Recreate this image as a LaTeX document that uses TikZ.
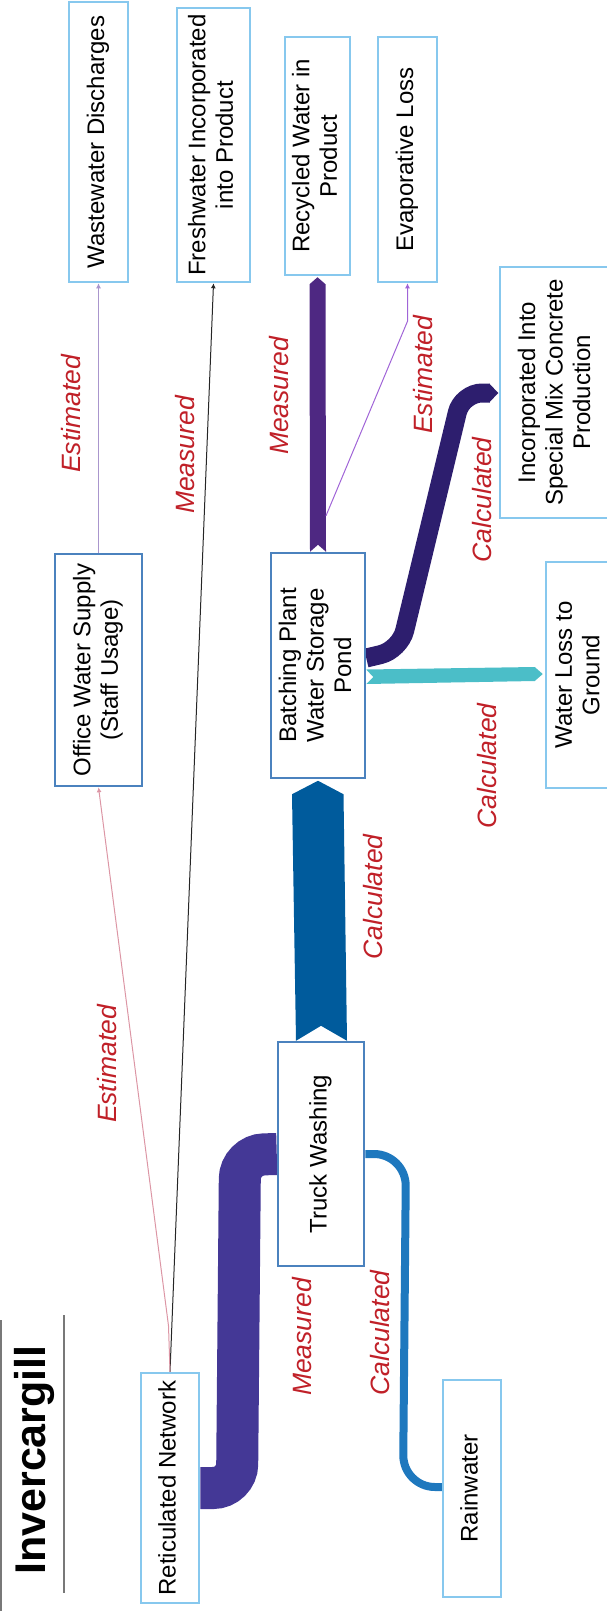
\documentclass[tikz,border=0pt]{standalone}
\usepackage{fontspec}
\usepackage{graphicx}
\setmainfont{Liberation Sans}
\usetikzlibrary{arrows.meta,backgrounds,calc}
\definecolor{lblue}{RGB}{135,200,238}
\definecolor{sblue}{RGB}{75,130,190}
\definecolor{lblred}{RGB}{192,32,40}
\definecolor{pipepurple}{RGB}{68,56,150}
\definecolor{rainblue}{RGB}{30,120,190}
\definecolor{flowblue}{RGB}{0,91,156}
\definecolor{recpurple}{RGB}{78,40,130}
\definecolor{mixnavy}{RGB}{45,30,110}
\definecolor{tealflow}{RGB}{75,190,200}
\definecolor{thinpink}{RGB}{220,150,165}
\definecolor{thinlav}{RGB}{170,150,205}
\definecolor{thinviolet}{RGB}{160,100,215}
\definecolor{titlegray}{RGB}{120,120,120}
\newcommand{\vtext}[1]{\rotatebox{90}{\fontsize{24}{27.5}\selectfont\begin{tabular}{@{}c@{}}#1\end{tabular}}}
\tikzset{
  lbox/.style={draw=lblue, line width=2.5pt, fill=white, inner sep=0pt},
  sbox/.style={draw=sblue, line width=2.5pt, fill=white, inner sep=0pt},
  flowlabel/.style={rotate=90, text=lblred, font=\fontsize{26.5}{30}\selectfont\itshape, inner sep=0pt},
  thinflow/.style={line width=1pt, -{Latex[length=5pt,width=5pt]}},
}
\begin{document}
\begin{tikzpicture}[x=1pt,y=-1pt]
\useasboundingbox (0,0) rectangle (607,1611);
% title
\node[rotate=90, anchor=base, inner sep=0pt, font=\fontsize{43}{50}\selectfont\bfseries] (title) at (45,1460) {Invercargill};
\draw[titlegray, line width=1.5pt] (64,1315) -- (64,1593);
\draw[titlegray, line width=1.5pt] (0.75,1320) -- (0.75,1611);
% nodes
\node[lbox, minimum width=59pt, minimum height=280pt] (ww) at (98.5,142) {\vtext{Wastewater Discharges}};
\node[lbox, minimum width=73pt, minimum height=274pt] (fw) at (213.5,145) {\vtext{Freshwater Incorporated\\into Product}};
\node[lbox, minimum width=65pt, minimum height=238pt] (rw) at (317.5,156) {\vtext{Recycled Water in\\Product}};
\node[lbox, minimum width=59pt, minimum height=245pt] (ev) at (407.5,159.5) {\vtext{Evaporative Loss}};
\node[lbox, minimum width=114pt, minimum height=251pt] (sm) at (557,392.5) {\vtext{Incorporated Into\\Special Mix Concrete\\Production}};
\node[sbox, minimum width=87pt, minimum height=232pt] (of) at (98.5,670) {\vtext{Office Water Supply\\(Staff Usage)}};
\node[sbox, minimum width=94pt, minimum height=225pt] (bp) at (318,665.5) {\vtext{Batching Plant\\Water Storage\\Pond}};
\node[lbox, minimum width=68pt, minimum height=226pt] (wl) at (580,675) {\vtext{Water Loss to\\Ground}};
\node[sbox, minimum width=86pt, minimum height=224pt] (tw) at (321,1154) {\vtext{Truck Washing}};
\node[lbox, minimum width=58pt, minimum height=230pt] (rn) at (170,1488) {\vtext{Reticulated Network}};
\node[lbox, minimum width=58pt, minimum height=217pt] (ra) at (472,1488.5) {\vtext{Rainwater}};
% labels
\node[flowlabel] (l1) at (71,414) {Estimated};
\node[flowlabel] (l2) at (185,455) {Measured};
\node[flowlabel] (l3) at (279,396) {Measured};
\node[flowlabel] (l4) at (423,375) {Estimated};
\node[flowlabel] (l5) at (482,500) {Calculated};
\node[flowlabel] (l6) at (373,897) {Calculated};
\node[flowlabel] (l7) at (107,1064) {Estimated};
\node[flowlabel] (l8) at (487,766) {Calculated};
\node[flowlabel] (l9) at (302,1337) {Measured};
\node[flowlabel] (l10) at (380,1333) {Calculated};
% connectors
\begin{pgfonlayer}{background}
\draw[pipepurple, line width=42pt, rounded corners=24pt] (rn.east) -- (237,1488) -- (240,1155) -- (tw.west);
\draw[rainblue, line width=8pt, rounded corners=32pt] ($(ra.west)+(0,-1.5)$) -- (403,1487) -- (406,1154) -- (tw.east);
\fill[flowblue] ($(bp.south)+(0,1.5)$) -- ($(bp.south)+(25.5,15)$) -- ($(tw.north)+(26,0)$) -- ($(tw.north)+(0,-15)$) -- ($(tw.north)+(-25,0)$) -- ($(bp.south)+(-26,15)$) -- cycle;
\fill[recpurple] ($(rw.south)+(0,1)$) -- ($(rw.south)+(8,8)$) -- ($(bp.north)+(8,0)$) -- ($(bp.north)+(0,-7)$) -- ($(bp.north)+(-8,0)$) -- ($(rw.south)+(-8,8)$) -- cycle;
\fill[tealflow] ($(bp.east)+(0,4)$) -- ($(wl.west)+(-10,-8)$) -- ($(wl.west)+(-2,-1)$) -- ($(wl.west)+(-10,6)$) -- ($(bp.east)+(0,18.5)$) -- ($(bp.east)+(7,11.5)$) -- cycle;
\draw[mixnavy, line width=19pt, rounded corners=20pt] ($(bp.east)+(0,-7.5)$) -- (400,650) -- (462,393) -- ($(sm.west)+(-9,0.5)$);
\fill[mixnavy] ($(sm.west)+(-9.5,-9)$) -- ($(sm.west)+(-0.5,0.5)$) -- ($(sm.west)+(-9.5,10)$) -- cycle;
\draw[thinflow, draw=thinlav] (of.north) -- (ww.south);
\draw[thinflow, draw=black!85] (rn.north) -- (fw.south);
\draw[thinflow, draw=thinpink] (rn.north) -- ($(rn.north)+(-1.5,-46)$) -- (of.south);
\coordinate (evstart) at ($(bp.north)+(8,-36)$);
\draw[thinflow, draw=thinviolet] (evstart) -- ($(ev.south)+(0,38)$) -- (ev.south);
\end{pgfonlayer}
\end{tikzpicture}
\end{document}
